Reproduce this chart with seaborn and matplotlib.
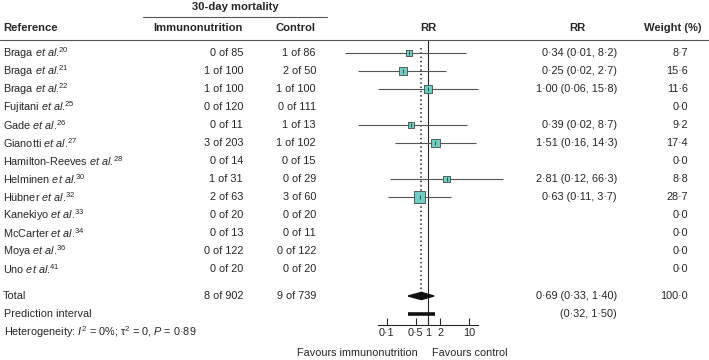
import numpy as np
import pandas as pd
import matplotlib
matplotlib.use('Agg')
import matplotlib.pyplot as plt
import matplotlib.transforms as mtransforms
from matplotlib.lines import Line2D
import seaborn as sns

# study data
authors = ['Braga', 'Braga', 'Braga', 'Fujitani', 'Gade', 'Gianotti', 'Hamilton-Reeves',
           'Helminen', 'Hübner', 'Kanekiyo', 'McCarter', 'Moya', 'Uno']
cites = [20, 21, 22, 25, 26, 27, 28, 30, 32, 33, 34, 36, 41]
immuno = ['0 of 85', '1 of 100', '1 of 100', '0 of 120', '0 of 11', '3 of 203', '0 of 14',
          '1 of 31', '2 of 63', '0 of 20', '0 of 13', '0 of 122', '0 of 20']
control = ['1 of 86', '2 of 50', '1 of 100', '0 of 111', '1 of 13', '1 of 102', '0 of 15',
           '0 of 29', '3 of 60', '0 of 20', '0 of 11', '0 of 122', '0 of 20']
rr = [0.34, 0.25, 1.00, np.nan, 0.39, 1.51, np.nan, 2.81, 0.63, np.nan, np.nan, np.nan, np.nan]
rr_lo = [0.01, 0.02, 0.06, np.nan, 0.02, 0.16, np.nan, 0.12, 0.11, np.nan, np.nan, np.nan, np.nan]
rr_hi = [8.2, 2.7, 15.8, np.nan, 8.7, 14.3, np.nan, 66.3, 3.7, np.nan, np.nan, np.nan, np.nan]
weight = [8.7, 15.6, 11.6, 0.0, 9.2, 17.4, 0.0, 8.8, 28.7, 0.0, 0.0, 0.0, 0.0]

total_immuno = '8 of 902'
total_control = '9 of 739'
pooled = [0.69, 0.33, 1.40]
pred_int = [0.32, 1.50]
ticks = [0.1, 0.5, 1, 2, 10]
tick_labels = ['0·1', '0·5', '1', '2', '10']

sns.set_style('white')
plt.rcParams['font.family'] = ['Liberation Sans', 'DejaVu Sans']
plt.rcParams['mathtext.fontset'] = 'custom'
plt.rcParams['mathtext.rm'] = 'Liberation Sans'
plt.rcParams['mathtext.it'] = 'Liberation Sans:italic'
plt.rcParams['mathtext.bf'] = 'Liberation Sans:bold'

FS = 7.8
HFS = 8.1
INK = '#262626'
LINE = '#555555'


def dot(v, nd):
    return f'{v:.{nd}f}'.replace('.', '·')


df = pd.DataFrame({'author': authors, 'cite': cites, 'imm': immuno, 'ctl': control,
                   'rr': rr, 'lo': rr_lo, 'hi': rr_hi, 'w': weight})
df['row'] = np.arange(len(df))

fig = plt.figure(figsize=(7.09, 3.6), dpi=100)
# forest axes: x pixel 340..510, rows mapped so row 0 sits at y=53 px, 18 px per row
ax = fig.add_axes([340 / 709, 0, 170 / 709, 1])
ax.set_xscale('log')
ax.set_xlim(10 ** (-88 / 41.3), 10 ** (82 / 41.3))
ax.set_ylim((360 - 53) / 18, -53 / 18)
ax.patch.set_alpha(0)

tr = mtransforms.blended_transform_factory(fig.transFigure, ax.transData)


def px(x):
    return x / 709


# header
fig.text(px(235), -2.55, '30-day mortality', transform=tr, fontsize=HFS,
         fontweight='bold', ha='center', va='center', color=INK)
fig.add_artist(Line2D([px(143), px(327)], [-2.0, -2.0], transform=tr, color=LINE, lw=0.8))
for x, txt, ha in [(3, 'Reference', 'left'), (243, 'Immunonutrition', 'right'),
                   (316, 'Control', 'right'), (428, 'RR', 'center'),
                   (577, 'RR', 'center'), (702, 'Weight (%)', 'right')]:
    fig.text(px(x), -1.38, txt, transform=tr, fontsize=HFS, fontweight='bold',
             ha=ha, va='center', color=INK)
fig.add_artist(Line2D([0, 1], [-0.72, -0.72], transform=tr, color=LINE, lw=0.8))

# table rows
for _, r in df.iterrows():
    y = r['row']
    fig.text(px(3), y, f"{r['author']} $\\mathit{{et\\ al}}$.$^{{{r['cite']}}}$", transform=tr,
             fontsize=FS, ha='left', va='center', color=INK)
    fig.text(px(243), y, r['imm'], transform=tr, fontsize=FS, ha='right', va='center', color=INK)
    fig.text(px(316), y, r['ctl'], transform=tr, fontsize=FS, ha='right', va='center', color=INK)
    if not np.isnan(r['rr']):
        fig.text(px(617), y, f"{dot(r['rr'], 2)} ({dot(r['lo'], 2)}, {dot(r['hi'], 1)})",
                 transform=tr, fontsize=FS, ha='right', va='center', color=INK)
    fig.text(px(688), y, dot(r['w'], 1), transform=tr, fontsize=FS, ha='right', va='center', color=INK)

y_tot, y_pred = 13.5, 14.5
fig.text(px(3), y_tot, 'Total', transform=tr, fontsize=FS, va='center', color=INK)
fig.text(px(243), y_tot, total_immuno, transform=tr, fontsize=FS, ha='right', va='center', color=INK)
fig.text(px(316), y_tot, total_control, transform=tr, fontsize=FS, ha='right', va='center', color=INK)
fig.text(px(617), y_tot, f'{dot(pooled[0], 2)} ({dot(pooled[1], 2)}, {dot(pooled[2], 2)})',
         transform=tr, fontsize=FS, ha='right', va='center', color=INK)
fig.text(px(688), y_tot, dot(sum(weight), 1), transform=tr, fontsize=FS, ha='right', va='center', color=INK)
fig.text(px(4), y_pred, 'Prediction interval', transform=tr, fontsize=FS, va='center', color=INK)
fig.text(px(617), y_pred, f'({dot(pred_int[0], 2)}, {dot(pred_int[1], 2)})', transform=tr,
         fontsize=FS, ha='right', va='center', color=INK)
fig.text(px(4), 15.5, r'Heterogeneity: $\mathit{I}^{2}$ = 0%; τ$^{2}$ = 0, $\mathit{P}$ = 0·89',
         transform=tr, fontsize=FS, va='center', color=INK)

# forest plot
ax.plot([1, 1], [-0.72, 15.1], color=INK, lw=0.8)
ax.plot([pooled[0], pooled[0]], [-0.3, 13.3], color=INK, lw=1.1, ls=(0, (1, 1.8)))

est = df.dropna(subset=['rr'])
ax.hlines(est['row'], est['lo'], est['hi'], color=LINE, lw=0.8)
sns.scatterplot(data=est, x='rr', y='row', size='w', sizes=(2.2 * 8.7, 2.2 * 28.7),
                size_norm=(8.7, 28.7), marker='s', color='#6FCEC3', edgecolor='#3d4a48',
                linewidth=0.6, legend=False, ax=ax, zorder=3)
sns.scatterplot(data=est, x='rr', y='row', marker='|', color='#2f3b39', s=10,
                linewidth=0.6, legend=False, ax=ax, zorder=4)

# pooled diamond and prediction interval
dx = [pooled[1], pooled[0], pooled[2], pooled[0]]
ax.fill(dx, [y_tot, y_tot - 0.2, y_tot, y_tot + 0.2], color='#111111', zorder=3)
ax.plot(pred_int, [y_pred, y_pred], color='#111111', lw=2.6, solid_capstyle='butt')

# axis
ax.spines[['top', 'right', 'left']].set_visible(False)
ax.spines['bottom'].set_position(('data', 15.1))
ax.spines['bottom'].set_bounds(0.06, 16.5)
ax.spines['bottom'].set_color(INK)
ax.spines['bottom'].set_linewidth(0.8)
ax.set_xticks(ticks)
ax.set_xticklabels(tick_labels)
ax.minorticks_off()
ax.tick_params(axis='x', direction='in', length=5, width=0.8, color=INK,
               labelsize=FS, pad=2, labelcolor=INK, bottom=True)
ax.set_yticks([])
ax.set_xlabel('')
ax.set_ylabel('')

fig.text(px(418), 16.65, 'Favours immunonutrition', transform=tr, fontsize=FS,
         ha='right', va='center', color=INK)
fig.text(px(432), 16.65, 'Favours control', transform=tr, fontsize=FS,
         ha='left', va='center', color=INK)

fig.savefig('out.png', dpi=100)
